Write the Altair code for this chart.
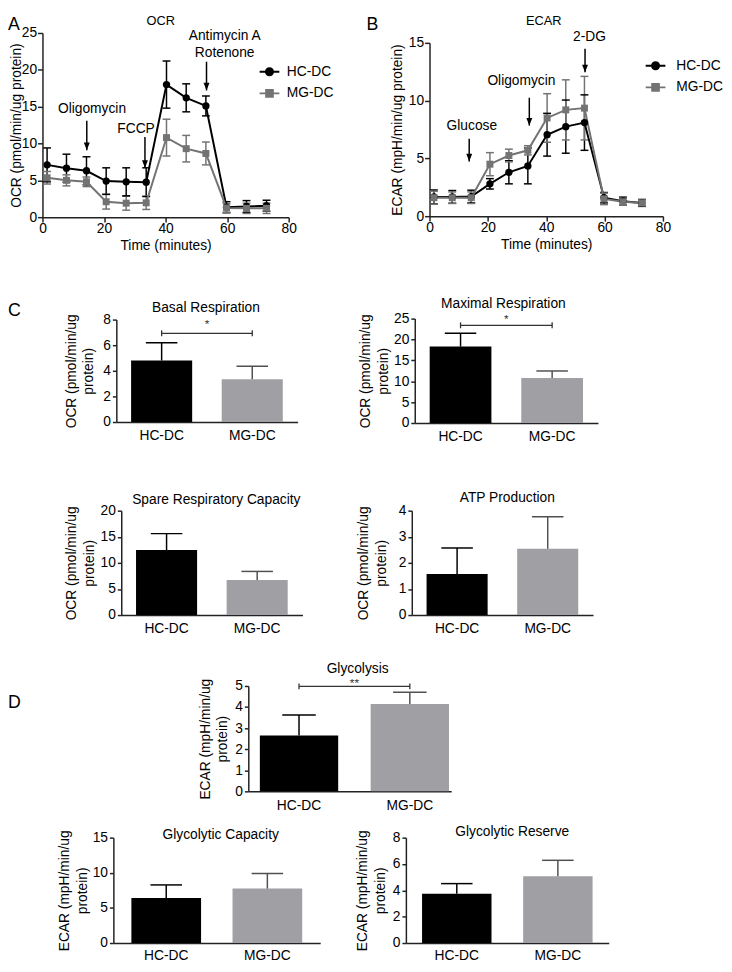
import altair as alt
import pandas as pd

FONT = "Liberation Sans"
BLACK = "#000000"
GREY_LINE = "#737373"
GREY_BAR = "#a0a0a4"
GREY_ERR = "#505050"
AXIS = "#222222"

# ---------------- data ----------------
series = ["HC-DC", "MG-DC"]
groups = ["HC-DC", "MG-DC"]
times = [1.5, 7.8, 14.3, 20.7, 27.2, 33.7, 40.3, 46.7, 53.1, 59.8, 66.3, 72.8]

ocr_hc = [7.1, 6.65, 6.3, 4.9, 4.8, 4.75, 18.0, 16.2, 15.1, 1.35, 1.45, 1.55]
ocr_hc_err = [2.3, 1.9, 1.9, 1.8, 1.9, 1.95, 3.2, 1.9, 1.35, 0.75, 0.8, 0.75]
ocr_mg = [5.35, 5.0, 4.8, 2.1, 1.9, 1.95, 10.8, 9.3, 8.65, 1.25, 1.2, 1.2]
ocr_mg_err = [0.85, 0.75, 0.65, 1.0, 0.95, 0.9, 2.5, 1.8, 1.55, 0.6, 0.7, 0.7]

ecar_hc = [1.67, 1.67, 1.7, 2.8, 3.8, 4.35, 7.05, 7.75, 8.1, 1.6, 1.3, 1.15]
ecar_hc_err = [0.6, 0.55, 0.55, 0.45, 1.0, 1.55, 1.85, 2.3, 2.4, 0.45, 0.35, 0.3]
ecar_mg = [1.6, 1.6, 1.6, 4.5, 5.25, 5.7, 8.5, 9.2, 9.35, 1.5, 1.25, 1.15]
ecar_mg_err = [0.55, 0.5, 0.5, 1.0, 0.55, 0.4, 2.1, 2.6, 2.75, 0.5, 0.3, 0.25]

ocr_drugs = ["Oligomycin", "FCCP", "Antimycin A\nRotenone"]
ocr_label_t = [16.1, 30.4, 59.2]
ocr_label_y = [14.65, 12.0, 24.55]
ocr_arrow_t = [14.4, 33.3, 53.3]
ocr_arrow_top = [13.1, 10.9, 21.1]
ocr_arrow_tip = [9.1, 6.7, 17.2]

ecar_drugs = ["Glucose", "Oligomycin", "2-DG"]
ecar_label_t = [14.5, 31.5, 54.8]
ecar_label_y = [7.84, 11.7, 15.5]
ecar_arrow_t = [13.6, 34.2, 53.3]
ecar_arrow_top = [6.7, 10.25, 14.5]
ecar_arrow_tip = [4.73, 7.84, 12.45]

basal_mean = [4.8, 3.35]
basal_upper = [6.2, 4.35]
maximal_mean = [18.3, 10.8]
maximal_upper = [21.5, 12.46]
spare_mean = [12.45, 6.73]
spare_upper = [15.6, 8.36]
atp_mean = [1.57, 2.54]
atp_upper = [2.57, 3.77]
glyco_mean = [2.65, 4.15]
glyco_upper = [3.62, 4.70]
gcap_mean = [6.4, 7.75]
gcap_upper = [8.27, 9.9]
gres_mean = [3.74, 5.06]
gres_upper = [4.51, 6.28]

sig_basal = (6.93, 7.65, "*")
sig_maximal = (23.4, 24.9, "*")
sig_glyco = (4.98, 5.12, "**")

OCR_TITLE_2 = ["OCR (pmol/min/ug", "protein)"]
ECAR_TITLE_2 = ["ECAR (mpH/min/ug", "protein)"]

# ---------------- helpers ----------------
def _circ(r):
    return f"M{r},0A{r},{r},0,1,1,{-r},0A{r},{r},0,1,1,{r},0"

def _sq(a):
    return f"M{-a},{-a}L{a},{-a}L{a},{a}L{-a},{a}Z"

STUB = "M-10,0L10,0"
LEG_CIRCLE = STUB + "".join(_circ(r) for r in (3.6, 2.6, 1.6, 0.6))
LEG_SQUARE = STUB + "".join(_sq(a) for a in (3.4, 2.4, 1.4, 0.4))


def indep(ch):
    return ch.resolve_scale(color="independent", shape="independent").resolve_legend(
        color="independent", shape="independent")


def title_layer(text, w, base_y, dx, size):
    return alt.Chart(pd.DataFrame({"ttl": [text]})).mark_text(
        fontSize=size, align="center", baseline="alphabetic", color=BLACK, dx=dx
    ).encode(x=alt.value(w / 2), y=alt.value(base_y), text="ttl:N")


def line_panel(hc, hc_err, mg, mg_err, ydom, yvals, ytitle, title, tpos, w, h, top,
               labels, lx, ly, at, atop, atip, legx, legy, laboff, rowpad, ytpad):
    n = len(times)
    df = pd.DataFrame({
        "t": times * 2,
        "v": hc + mg,
        "err": hc_err + mg_err,
        "series": [series[0]] * n + [series[1]] * n,
    })
    df["lo"] = df["v"] - df["err"]
    df["hi"] = df["v"] + df["err"]

    xs = alt.Scale(domain=[0, 80], nice=False, zero=False)
    xa = alt.Axis(values=[0, 20, 40, 60, 80], labelFlush=False, tickSize=5,
                  labelPadding=0, titlePadding=3)
    ys = alt.Scale(domain=ydom, nice=False, range=[h, top])
    ya = alt.Axis(values=yvals, tickSize=5, labelPadding=1, titlePadding=ytpad)

    def X(f):
        return alt.X(f"{f}:Q", scale=xs, axis=xa, title="Time (minutes)")

    def Y(f):
        return alt.Y(f"{f}:Q", scale=ys, axis=ya, title=ytitle)

    cscale = alt.Scale(domain=series, range=[BLACK, GREY_LINE])
    C = alt.Color("series:N", scale=cscale, legend=None)
    legp = dict(title=None, orient="none", legendX=legx, legendY=legy,
                labelFontSize=14, labelFont=FONT, labelColor=BLACK,
                labelOffset=laboff, rowPadding=rowpad, symbolSize=4,
                symbolStrokeWidth=2, symbolOpacity=1, labelLimit=300, padding=0)

    base = alt.Chart(df)
    leg = base.mark_point(opacity=0, filled=False, strokeWidth=2, size=4).encode(
        x=X("t"), y=Y("v"),
        color=alt.Color("series:N", scale=cscale, legend=alt.Legend(**legp)),
        shape=alt.Shape("series:N",
                        scale=alt.Scale(domain=series, range=[LEG_CIRCLE, LEG_SQUARE]),
                        legend=alt.Legend(**legp)),
    )
    err = base.mark_rule(strokeWidth=1.5).encode(x=X("t"), y=Y("lo"), y2="hi", color=C)
    cap_hi = base.mark_point(shape="M-1,0L1,0", size=64, strokeWidth=1.5, opacity=1).encode(
        x=X("t"), y=Y("hi"), color=C)
    cap_lo = base.mark_point(shape="M-1,0L1,0", size=64, strokeWidth=1.5, opacity=1).encode(
        x=X("t"), y=Y("lo"), color=C)
    line = base.mark_line(strokeWidth=2).encode(x=X("t"), y=Y("v"), color=C)
    pts_hc = base.transform_filter(alt.datum.series == series[0]).mark_point(
        shape="circle", filled=True, size=55, opacity=1).encode(x=X("t"), y=Y("v"), color=C)
    pts_mg = base.transform_filter(alt.datum.series == series[1]).mark_point(
        shape="square", filled=True, size=50, opacity=1).encode(x=X("t"), y=Y("v"), color=C)

    adf = pd.DataFrame({"t": at, "top": atop, "tip": atip})
    arrows = alt.Chart(adf).mark_rule(strokeWidth=1.5, color=BLACK).encode(
        x=X("t"), y=Y("top"), y2="tip")
    heads = alt.Chart(adf).mark_point(shape="M-1,-2.6L1,-2.6L0,0Z", size=36, filled=True,
                                      color=BLACK, opacity=1).encode(x=X("t"), y=Y("tip"))
    tdf = pd.DataFrame({"t": lx, "v": ly, "label": labels})
    texts = alt.Chart(tdf).mark_text(fontSize=14, lineBreak="\n", lineHeight=17.5,
                                     baseline="middle", align="center", color=BLACK).encode(
        x=X("t"), y=Y("v"), text="label:N")
    ttl = title_layer(title, w, tpos[0], tpos[1], 13)

    return alt.layer(leg, err, cap_hi, cap_lo, line, pts_hc, pts_mg, arrows, heads, texts,
                     ttl).properties(width=w, height=h)


def bar_panel(mean, upper, ydom, yvals, ytitle, title, tpos, w, h, top, pi, po, tpad,
              cap=32, align=0.5, sig=None, xlabpad=7):
    df = pd.DataFrame({"g": groups, "mean": mean, "upper": upper})
    xsc = alt.Scale(domain=groups, paddingInner=pi, paddingOuter=po, align=align)
    xa = alt.Axis(ticks=False, labelAngle=0, labelPadding=xlabpad)
    X = alt.X("g:N", scale=xsc, axis=xa, title=None)
    ys = alt.Scale(domain=ydom, nice=False, range=[h, top])
    ya = alt.Axis(values=yvals, tickSize=4, labelPadding=2, titlePadding=tpad,
                  titleLineHeight=18)

    def Y(f):
        return alt.Y(f"{f}:Q", scale=ys, axis=ya, title=ytitle)

    errc = alt.condition(alt.datum.g == groups[0], alt.value(BLACK), alt.value(GREY_ERR))
    base = alt.Chart(df)
    bars = base.mark_bar().encode(
        x=X, y=Y("mean"),
        color=alt.Color("g:N", scale=alt.Scale(domain=groups, range=[BLACK, GREY_BAR]),
                        legend=None))
    err = base.mark_rule(strokeWidth=1.5).encode(x=X, y=Y("mean"), y2="upper", color=errc)
    caps = base.mark_tick(size=cap, thickness=1.5, opacity=1).encode(x=X, y=Y("upper"), color=errc)
    layers = [bars, err, caps]
    if sig is not None:
        lvl, star_y, stars = sig
        step = w / (2 - pi + 2 * po)
        sdf = pd.DataFrame({"g": groups, "lvl": [lvl, lvl]})
        brk = alt.Chart(sdf).mark_line(color="#333333", strokeWidth=1.3).encode(x=X, y=Y("lvl"))
        bcap = alt.Chart(sdf).mark_point(shape="M0,-1L0,1", size=36, strokeWidth=1.3,
                                         color="#333333", opacity=1).encode(x=X, y=Y("lvl"))
        star = alt.Chart(pd.DataFrame({"g": [groups[0]], "lvl": [star_y], "s": [stars]})).mark_text(
            fontSize=12, dx=step / 2, baseline="middle", align="center", color="#333333").encode(
            x=X, y=Y("lvl"), text="s:N")
        layers += [brk, bcap, star]
    layers.append(title_layer(title, w, tpos[0], tpos[1], 14))
    return alt.layer(*layers).properties(width=w, height=h)


def spacer(w, h, letter=None, lx=0, ly=0):
    if letter:
        return alt.Chart(pd.DataFrame({"s": [letter]})).mark_text(
            fontSize=18, align="left", baseline="alphabetic", color=BLACK
        ).encode(x=alt.value(lx), y=alt.value(ly), text="s:N").properties(width=w, height=h)
    return alt.Chart(pd.DataFrame({"s": pd.Series([], dtype="float")})).mark_point(opacity=0).encode(
        x=alt.value(0), y=alt.value(0)).properties(width=w, height=h)


def row(*items):
    return indep(alt.hconcat(*items, spacing=0, bounds="flush"))


# ---------------- panels (row-local coordinates) ----------------
pA = line_panel(ocr_hc, ocr_hc_err, ocr_mg, ocr_mg_err, [0, 25], [0, 5, 10, 15, 20, 25],
                "OCR (pmol/min/ug protein)", "OCR", (10, -5), 250, 205, 18,
                ocr_drugs, ocr_label_t, ocr_label_y, ocr_arrow_t, ocr_arrow_top, ocr_arrow_tip,
                223.5, 50.3, 10.6, 6, -2)
pB = line_panel(ecar_hc, ecar_hc_err, ecar_mg, ecar_mg_err, [0, 15], [0, 5, 10, 15],
                "ECAR (mpH/min/ug protein)", "ECAR", (10, -2.5), 237, 204, 28,
                ecar_drugs, ecar_label_t, ecar_label_y, ecar_arrow_t, ecar_arrow_top, ecar_arrow_tip,
                222.5, 44.2, 14, 6, 4)

pBasal = bar_panel(basal_mean, basal_upper, [0, 8], [0, 2, 4, 6, 8], OCR_TITLE_2,
                   "Basal Respiration", (29.3, -1), 184, 141, 37, 0.326, 0.163, 7, sig=sig_basal)
pMax = bar_panel(maximal_mean, maximal_upper, [0, 25], [0, 5, 10, 15, 20, 25], OCR_TITLE_2,
                 "Maximal Respiration", (25.7, -3), 186, 142, 36, 0.326, 0.163, 3, sig=sig_maximal)
pSpare = bar_panel(spare_mean, spare_upper, [0, 20], [0, 5, 10, 15, 20], OCR_TITLE_2,
                   "Spare Respiratory Capacity", (34.3, 4.5), 184, 147, 41, 0.326, 0.163, 4)
pATP = bar_panel(atp_mean, atp_upper, [0, 4], [0, 1, 2, 3, 4], OCR_TITLE_2,
                 "ATP Production", (31.7, 5), 184, 147, 41, 0.326, 0.163, 10)
pGly = bar_panel(glyco_mean, glyco_upper, [0, 5], [0, 1, 2, 3, 4, 5], ECAR_TITLE_2,
                 "Glycolysis", (25.7, 8), 206, 146, 39, 0.293, 0.062, 5, cap=34, align=0.84,
                 sig=sig_glyco)
pGC = bar_panel(gcap_mean, gcap_upper, [0, 15], [0, 5, 10, 15], ECAR_TITLE_2,
                "Glycolytic Capacity", (22, 4), 210, 128, 21, 0.311, 0.178, 3, xlabpad=6)
pGR = bar_panel(gres_mean, gres_upper, [0, 8], [0, 2, 4, 6, 8], ECAR_TITLE_2,
                "Glycolytic Reserve", (19.7, 5), 206, 128, 21, 0.313, 0.16, 5, xlabpad=6)

S = spacer
rows = [
    row(S(35, 272, "A", 0, 15), pA, S(143, 20, "B", 79, 15), pB),
    row(S(110, 190, "C", 0, 33), pBasal, S(119, 1), pMax),
    row(S(115, 180), pSpare, S(111, 1), pATP),
    row(S(244, 172, "D", 0, 61), pGly),
    row(S(107, 140), pGC, S(87, 1), pGR),
]

chart = indep(alt.vconcat(*rows, spacing=0)).properties(
    padding=0
).configure(font=FONT).configure_view(stroke=None).configure_axis(
    labelFont=FONT, titleFont=FONT, labelFontSize=14, titleFontSize=14,
    titleFontWeight="normal", labelColor=BLACK, titleColor=BLACK,
    domainColor=AXIS, tickColor=AXIS, domainWidth=1.5, tickWidth=1.5, grid=False
).configure_title(font=FONT, fontSize=14, fontWeight="normal", color=BLACK
).configure_text(font=FONT).configure_legend(labelFont=FONT)

chart.save("out.html", embed_options={"renderer": "svg", "actions": False})
